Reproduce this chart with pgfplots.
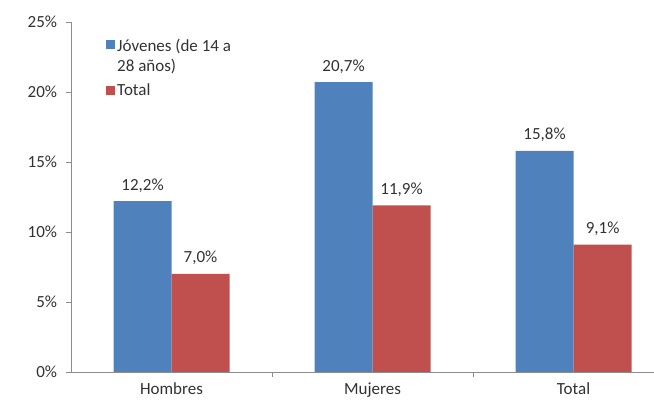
\documentclass[border=0pt]{standalone}
\usepackage{pgfplots}
\pgfplotsset{compat=1.18}
\usepackage{fontspec}
\setmainfont{Carlito}
\definecolor{cblue}{RGB}{79,129,189}
\definecolor{cred}{RGB}{192,80,77}
\definecolor{ctext}{RGB}{50,50,50}
\definecolor{caxis}{RGB}{140,140,140}
\begin{document}
\fontsize{17bp}{20bp}\selectfont
\begin{tikzpicture}
\begin{axis}[
  at={(0,0)}, anchor=south west,
  scale only axis, width=583bp, height=350bp,
  ybar, bar width=58bp,
  xmin=-0.5, xmax=2.4,
  ymin=0, ymax=25,
  axis x line=bottom, axis y line=left,
  axis line style={draw=caxis, -},
  xtick={0,1,2}, xticklabels={Hombres,Mujeres,Total},
  minor xtick={0.5,1.5},
  major x tick style={draw=none},
  minor x tick style={draw=caxis},
  minor tick length=5bp,
  ytick={0,5,10,15,20,25},
  ytick style={draw=caxis},
  major tick length=5bp,
  tick align=outside,
  yticklabel={\pgfmathprintnumber{\tick}\%},
  yticklabel style={xshift=-3bp},
  /pgf/number format/assume math mode=true,
  tick label style={font=\fontsize{17bp}{20bp}\selectfont, text=ctext},
  nodes near coords={\pgfmathprintnumber[fixed,fixed zerofill,precision=1,use comma,assume math mode=true]{\pgfplotspointmeta}\%},
  every node near coord/.append style={font=\fontsize{17bp}{20bp}\selectfont, text=ctext, anchor=base, yshift=11bp},
  legend style={draw=none, fill=none, at={(0.055,0.965)}, anchor=north west,
     font=\fontsize{17bp}{20bp}\selectfont, text=ctext,
     nodes={align=left, anchor=north west}, row sep=6bp},
  legend cell align=left,
  legend image code/.code={\fill[#1, draw=none] (0bp,-13bp) rectangle (9bp,-4bp);},
]
\addplot[fill=cblue, draw=none, bar shift=-29bp] coordinates {(0,12.2) (1,20.7) (2,15.8)};
\addlegendentry{Jóvenes (de 14 a\\28 años)}
\addplot[fill=cred, draw=none, bar shift=29bp] coordinates {(0,7.0) (1,11.9) (2,9.1)};
\addlegendentry{Total}
\end{axis}
\pgfresetboundingbox
\path[use as bounding box] (-71bp,-31bp) rectangle (583bp,372bp);
\end{tikzpicture}
\end{document}
